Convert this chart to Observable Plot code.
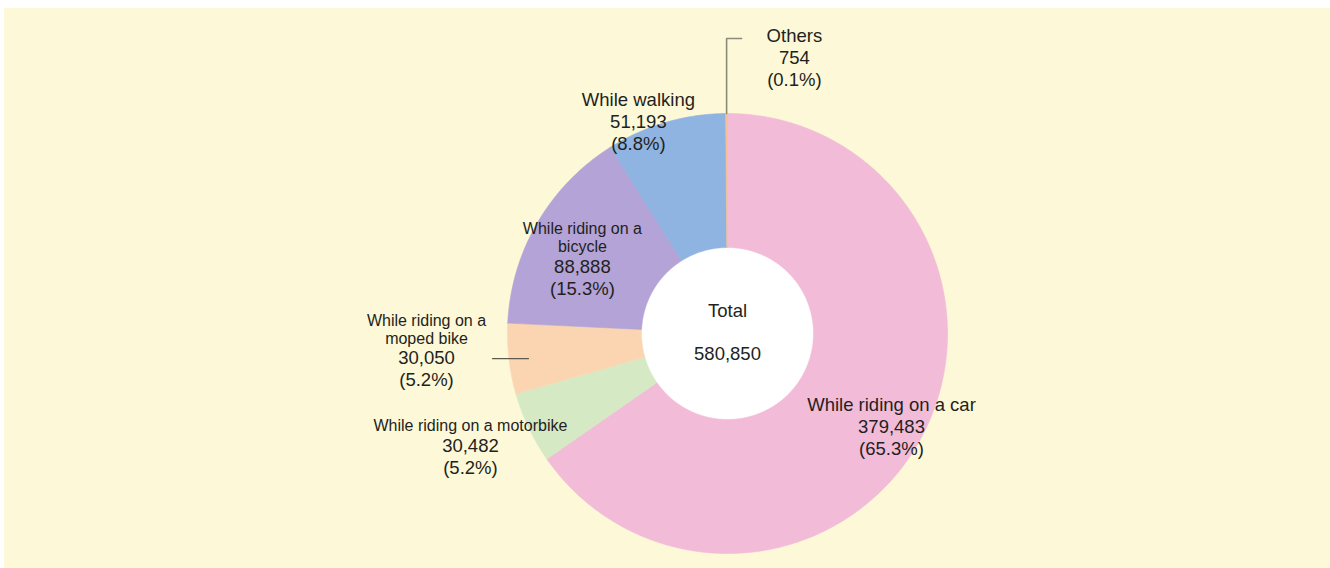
<!DOCTYPE html>
<html><head><meta charset="utf-8">
<script src="https://cdn.jsdelivr.net/npm/d3@7"></script>
<script src="https://cdn.jsdelivr.net/npm/@observablehq/plot@0.6"></script>
<style>
html,body{margin:0;padding:0;background:#ffffff;}
#chart{position:absolute;left:4px;top:8px;width:1326px;height:560px;background:#fdf8d8;}
#chart svg{display:block;}
</style></head><body><div id="chart"></div>
<script>
// ---- data ----
const categories = ["While riding on a car", "While riding on a motorbike", "While riding on a moped bike", "While riding on a bicycle", "While walking", "Others"];
const values = [379483, 30482, 30050, 88888, 51193, 754];
const percentLabels = ["65.3%", "5.2%", "5.2%", "15.3%", "8.8%", "0.1%"];
const nameLines = [["While riding on a car"], ["While riding on a motorbike"], ["While riding on a", "moped bike"], ["While riding on a", "bicycle"], ["While walking"], ["Others"]];
const totalTitle = "Total";

// ---- styles / layout ----
const colors = ["#f2bbd7", "#d6e9c5", "#fbd5b1", "#b3a3d6", "#8fb4e2", "#f6bf95"];
const nameSizes = [18.5, 16, 16, 16, 18.5, 18.5];
const valueSize = 18.5;
const R = 220, r0 = 87;
const W = 1326, H = 560, cx = 723, cy = 325;
// label block placement: radius (px) at slice mid-angle plus nudge
const labelLayout = [
  {r: 189, dx: -3.5, dy: 6.4},
  {r: 281.6, dx: -2.6, dy: -5.8},
  {r: 301.5, dx: -1.5, dy: -16.6},
  {r: 163, dx: -4.3, dy: 9},
  {r: 229, dx: -24.7, dy: 8.8},
  {r: 275, dx: 68, dy: 0}
];
const textColor = "#231f20";
const fontFamily = "'Liberation Sans', Arial, Helvetica, sans-serif";

// ---- geometry ----
const total = d3.sum(values);
const deg = Math.PI / 180;
const slices = [];
let acc = 0;
values.forEach((v, i) => {
  const a0 = acc / total * 360, a1 = (acc + v) / total * 360;
  acc += v;
  slices.push({cat: categories[i], a0, a1, mid: (a0 + a1) / 2, i});
});
const pt = (a, rad) => [rad * Math.sin(a * deg), -rad * Math.cos(a * deg)];

const poly = [];
for (const s of slices) {
  const n = Math.max(2, Math.ceil((s.a1 - s.a0) / 0.5));
  const outer = [], inner = [];
  for (let k = 0; k <= n; k++) {
    const a = s.a0 + (s.a1 - s.a0) * k / n;
    outer.push(pt(a, R));
    inner.push(pt(a, r0 - 1));
  }
  const ring = outer.concat(inner.reverse());
  ring.push(outer[0]);
  for (const [x, y] of ring) poly.push({cat: s.cat, x, y});
}

// label lines
const textRows = [];
const blocks = [];
slices.forEach((s, i) => {
  const L = labelLayout[i];
  const [bx0, by0] = pt(s.mid, L.r);
  const bx = bx0 + L.dx, by = by0 + L.dy;
  const rows = [];
  for (const t of nameLines[i]) rows.push({text: t, size: nameSizes[i], lh: nameSizes[i] < 17 ? 18 : 22});
  rows.push({text: d3.format(",")(values[i]), size: valueSize, lh: 22, kind: "value"});
  rows.push({text: "(" + percentLabels[i] + ")", size: valueSize, lh: 22});
  const hTot = d3.sum(rows, d => d.lh);
  let yy = by - hTot / 2;
  const placed = [];
  for (const r of rows) {
    const row = {x: bx, y: yy + r.lh / 2, text: r.text, size: r.size, kind: r.kind};
    textRows.push(row); placed.push(row);
    yy += r.lh;
  }
  blocks.push({x: bx, y: by, rows: placed});
});

// leader lines
const othersSlice = slices[5];
const [ox] = pt(othersSlice.mid, R);
const oTop = blocks[5].rows[0].y + 2;
const othersLeader = [{x: ox, y: -R}, {x: ox, y: oTop}, {x: ox + 15, y: oTop}];
const mopedVal = blocks[2].rows.find(r => r.kind === "value");
const mopedLeader = [{x: blocks[2].x + 66, y: mopedVal.y}, {x: blocks[2].x + 102, y: mopedVal.y}];

const centerText = [
  {x: 0, y: -22, text: totalTitle},
  {x: 0, y: 21, text: d3.format(",")(total)}
];

const chart = Plot.plot({
  width: W, height: H, margin: 0,
  x: {domain: [-cx, W - cx], range: [0, W], axis: null},
  y: {domain: [-cy, H - cy], range: [0, H], axis: null},
  color: {domain: categories, range: colors},
  style: {background: "transparent", fontFamily, color: textColor},
  marks: [
    Plot.dot([{x: 0, y: 0}], {x: "x", y: "y", r: r0 + 1, fill: "#ffffff", stroke: "none"}),
    Plot.line(poly, {x: "x", y: "y", z: "cat", fill: "cat", stroke: "cat", strokeWidth: 0.6, curve: "linear"}),
    Plot.line(othersLeader, {x: "x", y: "y", stroke: "#8a8a78", strokeWidth: 1.6}),
    Plot.line(mopedLeader, {x: "x", y: "y", stroke: "#5c5c4c", strokeWidth: 1.3}),
    Plot.text(textRows, {x: "x", y: "y", text: "text", fontSize: "size", fill: textColor, textAnchor: "middle", lineAnchor: "middle"}),
    Plot.text(centerText, {x: "x", y: "y", text: "text", fontSize: 18.5, fill: textColor, textAnchor: "middle", lineAnchor: "middle"})
  ]
});
document.getElementById("chart").appendChild(chart);
</script></body></html>
